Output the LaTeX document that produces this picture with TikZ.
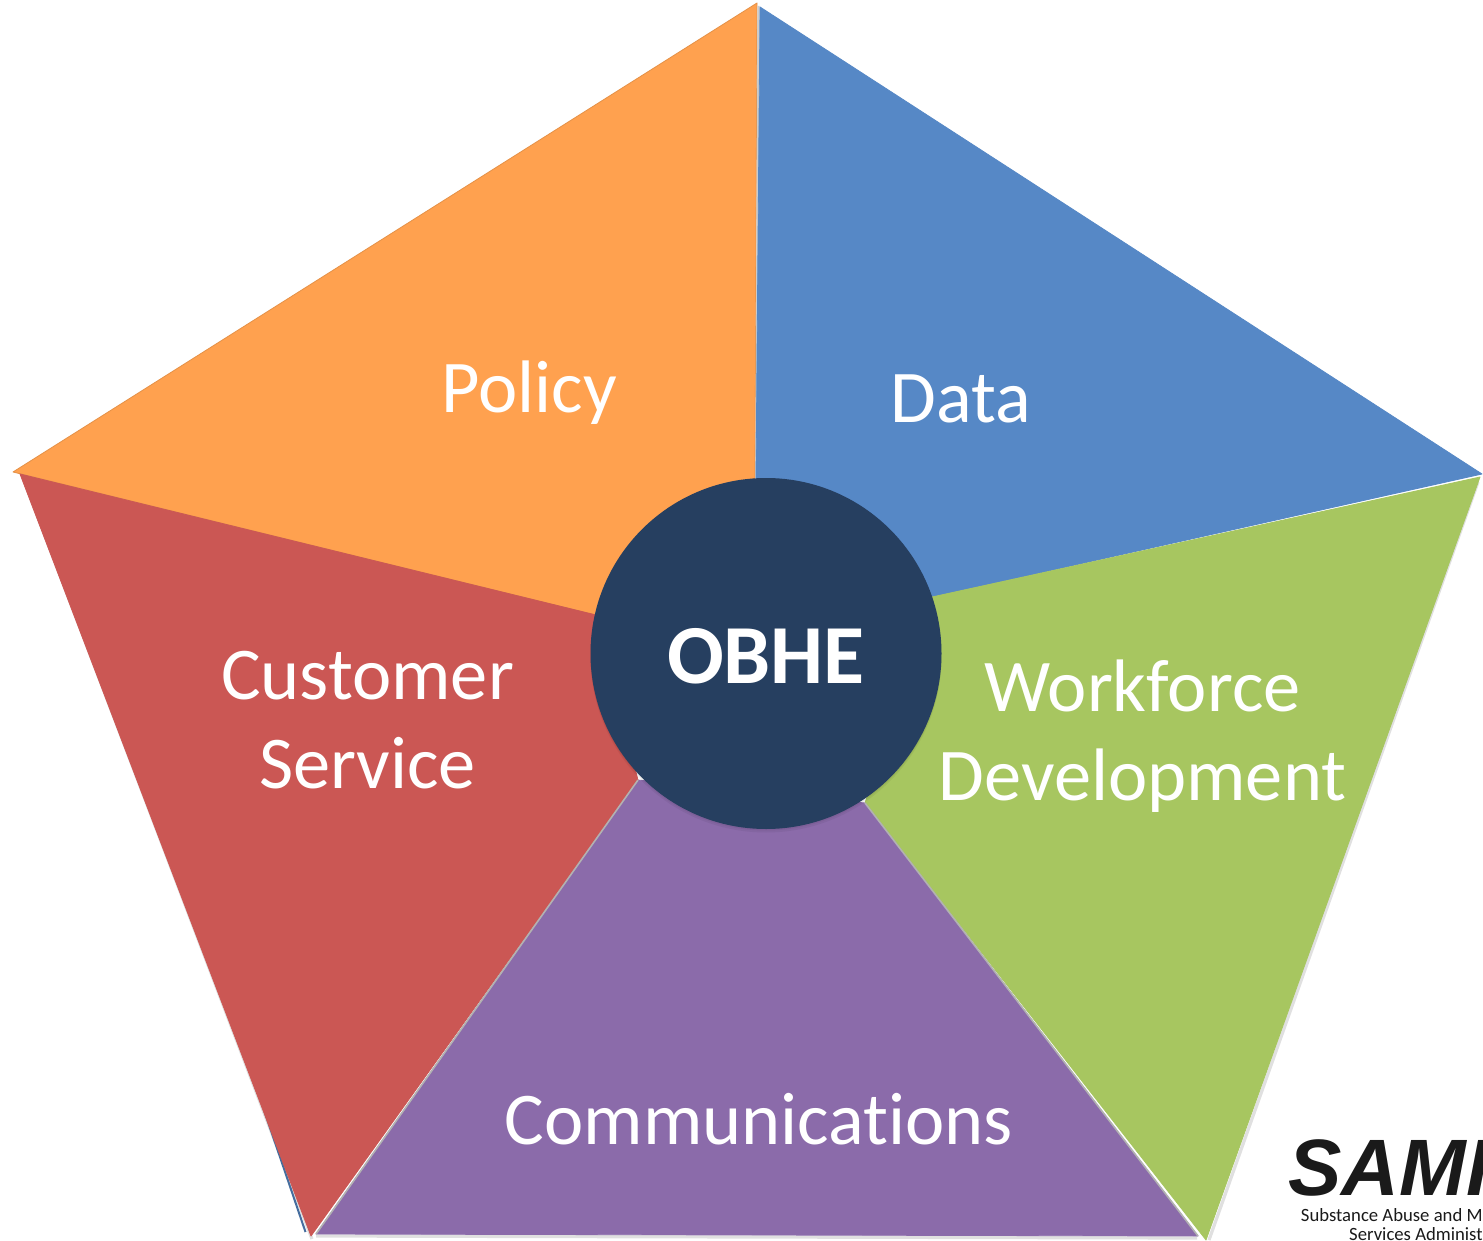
\documentclass[tikz,border=0pt]{standalone}
\usepackage{fontspec}
\setmainfont[Ligatures=NoCommon]{Carlito}
\newfontfamily\logofont{Liberation Sans}
\definecolor{cOrange}{HTML}{FFA14F}
\definecolor{cBlue}{HTML}{5688C6}
\definecolor{cGreen}{HTML}{A7C660}
\definecolor{cPurple}{HTML}{8B6BAA}
\definecolor{cRed}{HTML}{CB5754}
\definecolor{cHub}{HTML}{263F60}
\definecolor{cInk}{HTML}{1A1A1A}
\tikzset{
  wedge/.style={line width=0.4pt,line join=round},
  wedgeshadow/.style={draw=black,draw opacity=0.12,line width=1.6pt,line join=round,fill=none},
  wedgelabel/.style={text=white,font=\fontsize{37.2}{44.5}\selectfont,align=center,inner sep=0pt},
  hub/.style={circle,fill=cHub,minimum size=175.5pt,inner sep=0pt},
  hubshade/.style={circle,fill=black,fill opacity=0.05,inner sep=0pt,minimum size=175.5pt},
  logotext/.style={text=cInk,font=\fontsize{9.35}{10}\selectfont,inner sep=0pt,anchor=east},
}
\begin{document}
\begin{tikzpicture}[x=0.5pt,y=-0.5pt]
\useasboundingbox (0,0) rectangle (1483,1241);
\fill[white] (0,0) rectangle (1483,1241);
\begin{scope}
\clip (0,0) rectangle (1483,1241);
% soft shadows of the wedges
\draw[wedgeshadow] (316,1236) -- (1197,1238);
\draw[wedgeshadow] (23,478) -- (312,1239);
\draw[wedgeshadow] (1209,1240) -- (1478,482);
% blue edge showing behind the red wedge
\draw[cBlue!80!black,line width=1pt] (264,1110) -- (305.5,1232);
% wedges
\fill[cOrange,wedge,draw=cOrange!90!black] (757,3) -- (755,478) -- (596,615) -- (13,472) -- cycle;
\draw[gray!40,line width=1.2pt] (758.5,6) -- (756.5,478);
\fill[cBlue,wedge,draw=cBlue] (760,7) -- (756,478) -- (932,597) -- (1482,474) -- cycle;
\fill[cGreen,wedge,draw=cGreen] (1480,477) -- (932,597) -- (865,803) -- (1206,1240) -- cycle;
\fill[cPurple,wedge,draw=cPurple] (638,780) -- (865,803) -- (1198,1236) -- (316,1234) -- cycle;
\fill[cRed,wedge,draw=cRed] (20,474) -- (596,615) -- (638,780) -- (311,1236) -- cycle;
\draw[gray!60,line width=0.8pt] (865,803) -- (1198,1236);
\draw[gray!60,line width=0.8pt] (638,780) -- (316,1234);
% hub
\foreach \d in {2,4}
  \node[hubshade] at (766,653+\d) {};
\node[hub] (hub) at (766,653.5) {};
\node[text=white,font=\fontsize{42}{44}\selectfont\bfseries,inner sep=0pt] (obhe) at (766,656) {OBHE};
% labels
\node[wedgelabel] (policy) at (529,392.5) {Policy};
\node[wedgelabel] (data) at (961,399) {Data};
\node[wedgelabel] (service) at (367.5,720) {Customer\\Service};
\node[wedgelabel] (workforce) at (1142.5,736) {Workforce\\Development};
\node[wedgelabel] (comms) at (759,1119) {Communications};
% logo
\node[text=cInk,font=\logofont\fontsize{40}{40}\selectfont\bfseries\itshape,inner sep=0pt,anchor=base west] (logo) at (1288,1195) {SAMH};
\node[logotext] (logoa) at (1483,1215) {Substance Abuse and M};
\node[logotext] (logob) at (1483,1234) {Services Administ};
\end{scope}
\end{tikzpicture}
\end{document}
